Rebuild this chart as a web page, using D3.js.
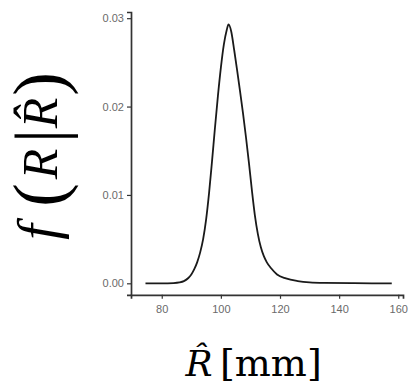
<!DOCTYPE html>
<html>
<head>
<meta charset="utf-8">
<script src="https://cdn.jsdelivr.net/npm/d3@7/dist/d3.min.js"></script>
<style>
  html, body { margin: 0; padding: 0; background: #fff; }
  svg { display: block; }
</style>
</head>
<body>
<svg id="chart" width="410" height="385"></svg>
<script>
// Estimated radius R-hat (mm) and conditional density f(R | R-hat)
const radius = [74.5, 80, 84, 86, 87.5, 89, 90, 91, 92, 93, 94, 95, 96, 97, 98, 99, 100,
  101, 102, 102.6, 103.5, 104.5, 105.5, 106.5, 107.5, 108.5, 109.5, 110.5, 111.5, 112.5,
  113.5, 114.5, 115.5, 117, 119, 122, 126, 130, 135, 145, 157.8];
const density = [0, 0, 0.00003, 0.0001, 0.00025, 0.0006, 0.0010, 0.0016, 0.0024, 0.0035,
  0.0050, 0.0072, 0.0102, 0.0138, 0.0176, 0.0212, 0.0244, 0.0270, 0.0287, 0.0293, 0.0285,
  0.0264, 0.0241, 0.0217, 0.0192, 0.0165, 0.0136, 0.0105, 0.0077, 0.0056, 0.0041, 0.0031,
  0.0024, 0.0017, 0.0010, 0.00055, 0.00025, 0.0001, 0.00004, 0.00001, 0];

const xTicks = [80, 100, 120, 140, 160];
const yTicks = [0, 0.01, 0.02, 0.03];

const svg = d3.select("#chart");

const x = d3.scaleLinear().domain([69.6, 161.6]).range([131, 403]);
const y = d3.scaleLinear().domain([-0.0013, 0.0307]).range([294.8, 12]);

const axisColor = "#333";
const labelColor = "#6a6a6a";

// y axis
const gy = svg.append("g")
  .attr("transform", `translate(${x.range()[0]},0)`)
  .call(d3.axisLeft(y).tickValues(yTicks).tickFormat(d3.format(".2f"))
    .tickSize(4).tickPadding(3));

// x axis
const gx = svg.append("g")
  .attr("transform", `translate(0,${y.range()[0]})`)
  .call(d3.axisBottom(x).tickValues(xTicks).tickSize(4).tickPadding(6));

[gx, gy].forEach(g => {
  g.select(".domain").attr("stroke", axisColor).attr("stroke-width", 1.7);
  g.selectAll(".tick line").attr("stroke", axisColor).attr("stroke-width", 1.2);
  g.selectAll(".tick text")
    .attr("fill", labelColor)
    .style("font-family", "'Liberation Sans', Arial, sans-serif")
    .style("font-size", "11px");
});

// density curve
const line = d3.line()
  .x((d, i) => x(radius[i]))
  .y(d => y(d))
  .curve(d3.curveMonotoneX);

svg.append("path")
  .datum(density)
  .attr("fill", "none")
  .attr("stroke", "#1a1a1a")
  .attr("stroke-width", 1.8)
  .attr("stroke-linejoin", "round")
  .attr("d", line);

// y axis title: f(R | R-hat), rotated; delimiters sit slightly lower like math parentheses
const yTitle = svg.append("g")
  .attr("transform", "translate(57,252) rotate(-90)")
  .append("text")
  .attr("fill", "#000")
  .style("font-family", "'Liberation Serif', 'Times New Roman', serif");

const yParts = [
  { t: "f", x: 20, size: 56, italic: true, shift: 0 },
  { t: "(", x: 57, size: 71, italic: false, shift: 6 },
  { t: "R", x: 88, size: 50, italic: true, shift: 0 },
  { t: "|", x: 116, size: 70, italic: false, shift: 6 },
  { t: "R\u0302", x: 139, size: 50, italic: true, shift: 0 },
  { t: ")", x: 168, size: 71, italic: false, shift: 6 }
];
yParts.forEach(p => {
  yTitle.append("tspan")
    .attr("x", p.x)
    .attr("y", p.shift)
    .attr("text-anchor", "middle")
    .style("font-size", p.size + "px")
    .style("font-style", p.italic ? "italic" : "normal")
    .text(p.t);
});

// x axis title: R-hat [mm]
const xTitle = svg.append("text")
  .attr("fill", "#000")
  .style("font-family", "'DejaVu Serif', serif");

xTitle.append("tspan")
  .attr("x", 199).attr("y", 376)
  .attr("text-anchor", "middle")
  .style("font-size", "36px")
  .style("font-style", "italic")
  .text("R\u0302");
xTitle.append("tspan")
  .attr("x", 220).attr("y", 376)
  .attr("text-anchor", "start")
  .style("font-size", "38px")
  .text("[mm]");
</script>
</body>
</html>
